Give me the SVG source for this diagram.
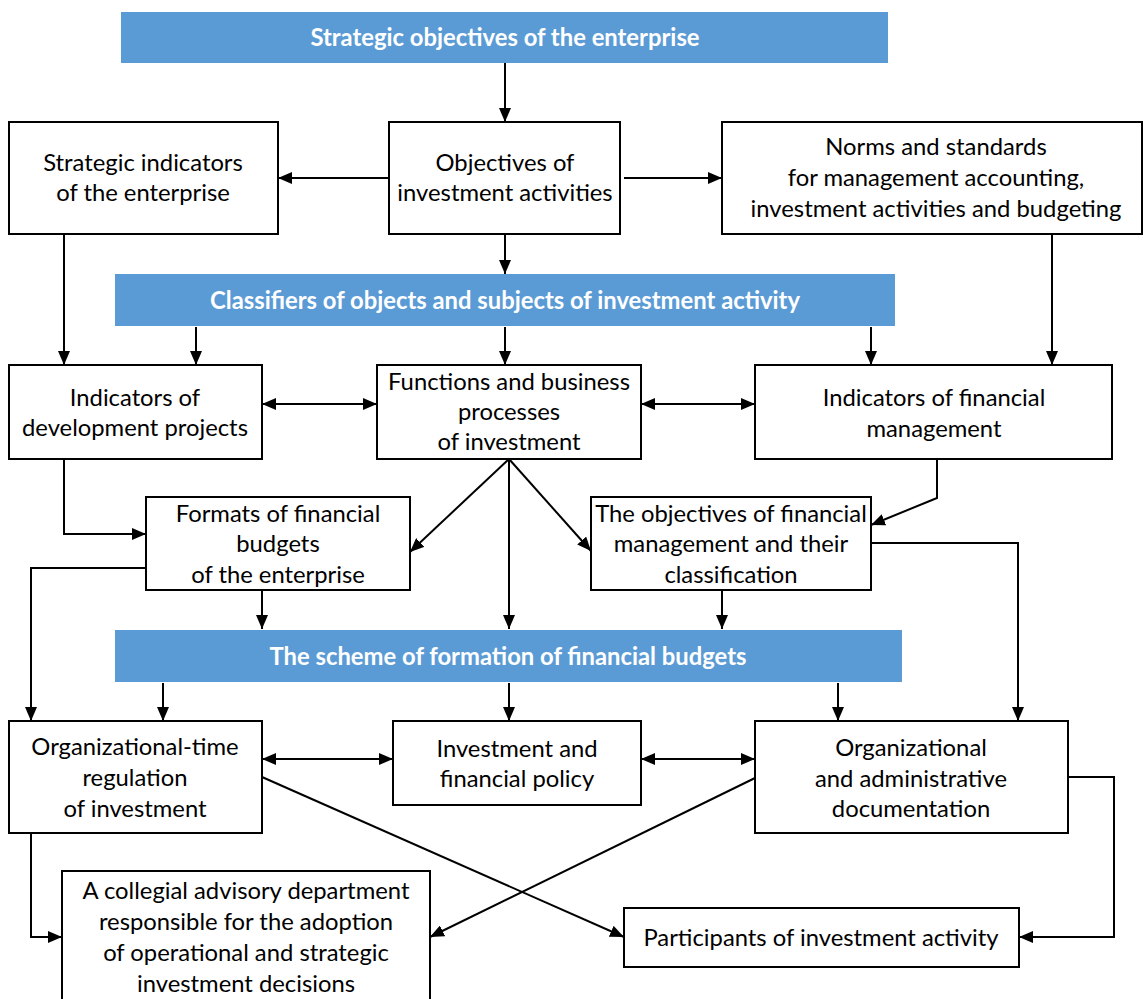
<svg xmlns="http://www.w3.org/2000/svg" width="1143" height="999" viewBox="0 0 1143 999">
<style>
.bn{fill:#5B9BD5}
.bx{fill:#fff;stroke:#000;stroke-width:2}
.t{font-family:Lato,"Liberation Sans",sans-serif;font-size:23.8px;fill:#000;text-anchor:middle}
.bt{font-family:Lato,"Liberation Sans",sans-serif;font-size:23.8px;font-weight:bold;fill:#fff;text-anchor:middle}
.c{fill:none;stroke:#000;stroke-width:2}
</style>
<defs>
<marker id="ah" viewBox="0 0 14 12" refX="14" refY="6" markerWidth="14" markerHeight="12" orient="auto-start-reverse" markerUnits="userSpaceOnUse"><path d="M0,0 L14,6 L0,12 z" fill="#000"/></marker>
</defs>
<rect width="1143" height="999" fill="#fff"/>

<g id="connectors">
<path class="c" d="M505,63 V122" marker-end="url(#ah)"/>
<path class="c" d="M392,178 H278" marker-end="url(#ah)"/>
<path class="c" d="M624,178 H722" marker-end="url(#ah)"/>
<path class="c" d="M505,234 V274" marker-end="url(#ah)"/>
<path class="c" d="M64,234 V365" marker-end="url(#ah)"/>
<path class="c" d="M1052,234 V365" marker-end="url(#ah)"/>
<path class="c" d="M196,327 V365" marker-end="url(#ah)"/>
<path class="c" d="M505,327 V365" marker-end="url(#ah)"/>
<path class="c" d="M871,327 V365" marker-end="url(#ah)"/>
<path class="c" d="M262,404 H377" marker-start="url(#ah)" marker-end="url(#ah)"/>
<path class="c" d="M641,404 H755" marker-start="url(#ah)" marker-end="url(#ah)"/>
<path class="c" d="M64,459 V534 H146" marker-end="url(#ah)"/>
<path class="c" d="M509,459 L410,552" marker-end="url(#ah)"/>
<path class="c" d="M509,459 V629" marker-end="url(#ah)"/>
<path class="c" d="M509,459 L591,551" marker-end="url(#ah)"/>
<path class="c" d="M937,459 V498 L871,525" marker-end="url(#ah)"/>
<path class="c" d="M871,543 H1018 V721" marker-end="url(#ah)"/>
<path class="c" d="M146,568 H31 V721" marker-end="url(#ah)"/>
<path class="c" d="M262,590 V629" marker-end="url(#ah)"/>
<path class="c" d="M722,590 V629" marker-end="url(#ah)"/>
<path class="c" d="M163,683 V721" marker-end="url(#ah)"/>
<path class="c" d="M509,683 V721" marker-end="url(#ah)"/>
<path class="c" d="M838,683 V721" marker-end="url(#ah)"/>
<path class="c" d="M262,759 H393" marker-start="url(#ah)" marker-end="url(#ah)"/>
<path class="c" d="M641,759 H755" marker-start="url(#ah)" marker-end="url(#ah)"/>
<path class="c" d="M31,833 V937 H62" marker-end="url(#ah)"/>
<path class="c" d="M262,777 L624,937" marker-end="url(#ah)"/>
<path class="c" d="M755,778 L430,937" marker-end="url(#ah)"/>
<path class="c" d="M1068,777 H1114 V937 H1019" marker-end="url(#ah)"/>
</g>

<g id="banner1"><rect class="bn" x="121" y="12" width="767" height="51"/><text class="bt" x="505" y="46">Strategic objectives of the enterprise</text></g>
<g id="banner2"><rect class="bn" x="115" y="274" width="780" height="52"/><text class="bt" x="505" y="309">Classifiers of objects and subjects of investment activity</text></g>
<g id="banner3"><rect class="bn" x="115" y="630" width="787" height="52"/><text class="bt" x="508" y="665">The scheme of formation of financial budgets</text></g>

<g id="strategic-indicators"><rect class="bx" x="9" y="122" width="269" height="112"/><text class="t" x="143" y="171">Strategic indicators</text><text class="t" x="143" y="201">of the enterprise</text></g>
<g id="objectives-investment"><rect class="bx" x="389" y="122" width="231" height="112"/><text class="t" x="505" y="171">Objectives of</text><text class="t" x="505" y="201">investment activities</text></g>
<g id="norms-standards"><rect class="bx" x="722" y="122" width="420" height="112"/><text class="t" x="936" y="155">Norms and standards</text><text class="t" x="936" y="186">for management accounting,</text><text class="t" x="936" y="217">investment activities and budgeting</text></g>

<g id="indicators-development"><rect class="bx" x="9" y="365" width="253" height="94"/><text class="t" x="135" y="406">Indicators of</text><text class="t" x="135" y="436">development projects</text></g>
<g id="functions-processes"><rect class="bx" x="377" y="365" width="264" height="94"/><text class="t" x="509" y="390">Functions and business</text><text class="t" x="509" y="420">processes</text><text class="t" x="509" y="450">of investment</text></g>
<g id="indicators-financial"><rect class="bx" x="755" y="365" width="357" height="94"/><text class="t" x="934" y="406">Indicators of financial</text><text class="t" x="934" y="437">management</text></g>

<g id="formats-budgets"><rect class="bx" x="146" y="497" width="264" height="93"/><text class="t" x="278" y="522">Formats of financial</text><text class="t" x="278" y="552">budgets</text><text class="t" x="278" y="583">of the enterprise</text></g>
<g id="objectives-financial"><rect class="bx" x="591" y="497" width="280" height="93"/><text class="t" x="731" y="522">The objectives of financial</text><text class="t" x="731" y="552">management and their</text><text class="t" x="731" y="583">classification</text></g>

<g id="org-time"><rect class="bx" x="9" y="721" width="253" height="112"/><text class="t" x="135" y="755">Organizational-time</text><text class="t" x="135" y="786">regulation</text><text class="t" x="135" y="817">of investment</text></g>
<g id="policy"><rect class="bx" x="393" y="721" width="248" height="84"/><text class="t" x="517" y="757">Investment and</text><text class="t" x="517" y="787">financial policy</text></g>
<g id="org-admin"><rect class="bx" x="755" y="721" width="313" height="112"/><text class="t" x="911" y="756">Organizational</text><text class="t" x="911" y="787">and administrative</text><text class="t" x="911" y="817">documentation</text></g>

<g id="collegial"><rect class="bx" x="62" y="871" width="368" height="140"/><text class="t" x="246" y="899">A collegial advisory department</text><text class="t" x="246" y="930">responsible for the adoption</text><text class="t" x="246" y="961">of operational and strategic</text><text class="t" x="246" y="992">investment decisions</text></g>
<g id="participants"><rect class="bx" x="624" y="908" width="395" height="59"/><text class="t" x="821" y="946">Participants of investment activity</text></g>
</svg>
